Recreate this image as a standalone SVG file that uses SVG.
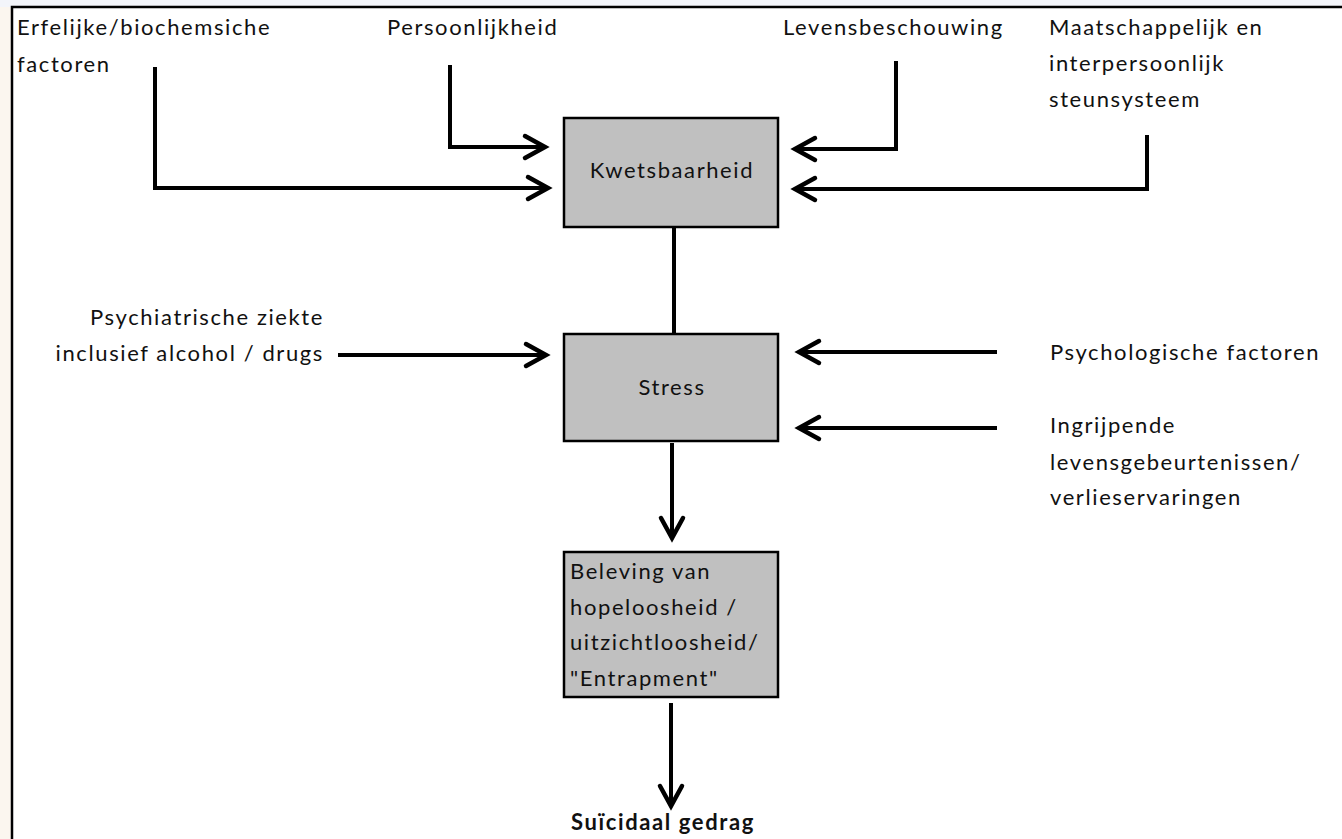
<svg xmlns="http://www.w3.org/2000/svg" width="1342" height="839" viewBox="0 0 1342 839">
<defs>
<style>
.t{font-family:Lato,"Open Sans","Liberation Sans",sans-serif;font-size:22px;letter-spacing:1.6px;fill:#111}
.b{font-weight:bold}
.box{fill:#c0c0c0;stroke:#000;stroke-width:2.5}
.c{fill:none;stroke:#000;stroke-width:4;stroke-linejoin:miter}
</style>
<marker id="ah" markerUnits="userSpaceOnUse" markerWidth="30" markerHeight="30" viewBox="-24 -15 30 30" refX="0" refY="0" orient="auto">
<path d="M-20,-11 L0,0 L-20,11" fill="none" stroke="#000" stroke-width="4.5" stroke-linecap="round" stroke-linejoin="miter"/>
</marker>
</defs>
<rect x="0" y="0" width="1342" height="839" fill="#fbf6ef"/>
<rect x="0" y="0" width="1342" height="7" fill="#f3f5fa"/>
<rect x="12" y="7" width="1330" height="832" fill="#ffffff"/>
<path d="M12,839 L12,7 L1342,7" fill="none" stroke="#000" stroke-width="2.5"/>

<g id="connectors">
<polyline class="c" points="155,67 155,188 548,188" marker-end="url(#ah)"/>
<polyline class="c" points="450,65 450,147 545,147" marker-end="url(#ah)"/>
<polyline class="c" points="896,61 896,149 795,149" marker-end="url(#ah)"/>
<polyline class="c" points="1147,135 1147,189 795,189" marker-end="url(#ah)"/>
<line class="c" x1="674" y1="227" x2="674" y2="334"/>
<line class="c" x1="338" y1="355" x2="546" y2="355" marker-end="url(#ah)"/>
<line class="c" x1="997" y1="352" x2="799" y2="352" marker-end="url(#ah)"/>
<line class="c" x1="997" y1="428" x2="799" y2="428" marker-end="url(#ah)"/>
<line class="c" x1="672" y1="443" x2="672" y2="538" marker-end="url(#ah)"/>
<line class="c" x1="671" y1="703" x2="671" y2="806" marker-end="url(#ah)"/>
</g>

<g id="erfelijk"><text class="t" x="17" y="35">Erfelijke/biochemsiche</text><text class="t" x="17" y="72">factoren</text></g>
<g id="persoonlijkheid"><text class="t" x="387" y="35">Persoonlijkheid</text></g>
<g id="levensbeschouwing"><text class="t" x="783" y="35">Levensbeschouwing</text></g>
<g id="maatschappelijk"><text class="t" x="1049" y="35">Maatschappelijk en</text><text class="t" x="1049" y="71">interpersoonlijk</text><text class="t" x="1049" y="107">steunsysteem</text></g>

<g id="kwetsbaarheid"><rect class="box" x="564" y="118" width="214" height="109"/><text class="t" x="672" y="178" text-anchor="middle">Kwetsbaarheid</text></g>

<g id="psychiatrisch"><text class="t" x="324" y="325" text-anchor="end">Psychiatrische ziekte</text><text class="t" x="324" y="361" text-anchor="end">inclusief alcohol / drugs</text></g>

<g id="stress"><rect class="box" x="564" y="334" width="214" height="107"/><text class="t" x="672" y="395" text-anchor="middle">Stress</text></g>

<g id="psychologisch"><text class="t" x="1050" y="360">Psychologische factoren</text></g>
<g id="ingrijpend"><text class="t" x="1050" y="433">Ingrijpende</text><text class="t" x="1050" y="470">levensgebeurtenissen/</text><text class="t" x="1050" y="505">verlieservaringen</text></g>

<g id="beleving"><rect class="box" x="564" y="552" width="214" height="145"/>
<text class="t" x="570" y="579">Beleving van</text><text class="t" x="570" y="615">hopeloosheid /</text><text class="t" x="570" y="650">uitzichtloosheid/</text><text class="t" x="570" y="686">"Entrapment"</text></g>

<g id="suicidaal"><text class="t b" x="663" y="830" text-anchor="middle">Suïcidaal gedrag</text></g>
</svg>
